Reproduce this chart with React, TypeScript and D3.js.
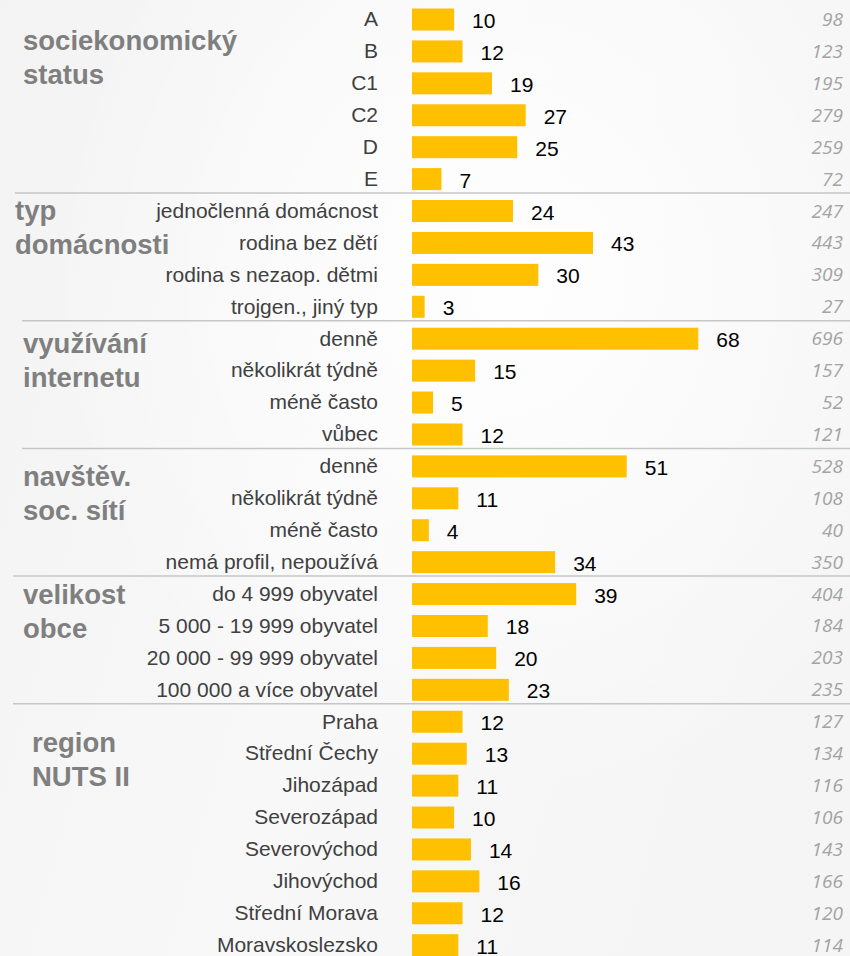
import React from 'react';
import * as d3 from 'd3';

// percentages, one per row
const groups = ['sociekonomický status', 'typ domácnosti', 'využívání internetu', 'navštěv. soc. sítí', 'velikost obce', 'region NUTS II'];
const groupLines = [
  ['sociekonomický', 'status'],
  ['typ', 'domácnosti'],
  ['využívání', 'internetu'],
  ['navštěv.', 'soc. sítí'],
  ['velikost', 'obce'],
  ['region', 'NUTS II'],
];
const categories = [
  'A', 'B', 'C1', 'C2', 'D', 'E',
  'jednočlenná domácnost', 'rodina bez dětí', 'rodina s nezaop. dětmi', 'trojgen., jiný typ',
  'denně', 'několikrát týdně', 'méně často', 'vůbec',
  'denně', 'několikrát týdně', 'méně často', 'nemá profil, nepoužívá',
  'do 4 999 obyvatel', '5 000 - 19 999 obyvatel', '20 000 - 99 999 obyvatel', '100 000 a více obyvatel',
  'Praha', 'Střední Čechy', 'Jihozápad', 'Severozápad', 'Severovýchod', 'Jihovýchod', 'Střední Morava', 'Moravskoslezsko',
];
const groupOf = [0, 0, 0, 0, 0, 0, 1, 1, 1, 1, 2, 2, 2, 2, 3, 3, 3, 3, 4, 4, 4, 4, 5, 5, 5, 5, 5, 5, 5, 5];
const values = [10, 12, 19, 27, 25, 7, 24, 43, 30, 3, 68, 15, 5, 12, 51, 11, 4, 34, 39, 18, 20, 23, 12, 13, 11, 10, 14, 16, 12, 11];
const counts = [98, 123, 195, 279, 259, 72, 247, 443, 309, 27, 696, 157, 52, 121, 528, 108, 40, 350, 404, 184, 203, 235, 127, 134, 116, 106, 143, 166, 120, 114];

// where each group title sits (x, baseline offset from the group's first row)
const titleX = [23, 15, 23, 23, 23, 32];
const titleDy = [30.5, 9, 14, 20, 10, 30];
const lineStartX = [15, 22, 22, 13, 13];

const W = 850;
const H = 956;

export default function App() {
  const idx = d3.range(values.length);
  const y = d3.scalePoint<number>().domain(idx).range([19.5, 945.2]);
  const x = d3.scaleLinear().domain([0, 100]).range([412, 833]);
  const barH = 22;

  const firstRow = groups.map((_, g) => groupOf.indexOf(g));
  const lastRow = groups.map((_, g) => groupOf.lastIndexOf(g));

  return (
    <svg width={W} height={H} style={{ position: 'absolute', left: 0, top: 0 }}>
      <defs>
        <linearGradient id="bg" x1="0" y1="0" x2="1" y2="0.3">
          <stop offset="0" stopColor="#f3f3f3" />
          <stop offset="0.5" stopColor="#f8f8f8" />
          <stop offset="1" stopColor="#f5f5f5" />
        </linearGradient>
        <radialGradient id="glow" cx="0.6" cy="0.3" r="0.55">
          <stop offset="0" stopColor="#ffffff" stopOpacity="0.9" />
          <stop offset="1" stopColor="#ffffff" stopOpacity="0" />
        </radialGradient>
      </defs>
      <rect width={W} height={H} fill="url(#bg)" />
      <rect width={W} height={H} fill="url(#glow)" />

      {groups.slice(0, -1).map((g, i) => {
        const yy = ((y(lastRow[i]) as number) + (y(firstRow[i + 1]) as number)) / 2 - 2;
        return <line key={g} x1={lineStartX[i]} x2={W} y1={yy} y2={yy} stroke="#c6c6c6" strokeWidth={1.5} />;
      })}

      {groupLines.map((lines, g) => (
        <text
          key={g}
          x={titleX[g]}
          y={(y(firstRow[g]) as number) + titleDy[g]}
          fontFamily="Liberation Sans, Arial, sans-serif"
          fontWeight="bold"
          fontSize={27.5}
          fill="#7f7f7f"
        >
          {lines.map((l, k) => (
            <tspan key={k} x={titleX[g]} dy={k === 0 ? 0 : 34}>{l}</tspan>
          ))}
        </text>
      ))}

      {idx.map((i) => {
        const cy = y(i) as number;
        return (
          <g key={i}>
            <text x={378} y={cy + 6.8} textAnchor="end" fontFamily="Liberation Sans, Arial, sans-serif" fontSize={21} fill="#404040">
              {categories[i]}
            </text>
            <rect x={x(0)} y={cy - barH / 2} width={x(values[i]) - x(0)} height={barH} fill="#FFC000" />
            <text x={x(values[i]) + 18} y={cy + 8.5} fontFamily="Liberation Sans, Arial, sans-serif" fontSize={21} fill="#000">
              {values[i]}
            </text>
            <text x={843} y={cy + 6.5} textAnchor="end" fontFamily="Open Sans, sans-serif" fontStyle="italic" fontSize={19} fill="#a3a3a3">
              {counts[i]}
            </text>
          </g>
        );
      })}
    </svg>
  );
}
